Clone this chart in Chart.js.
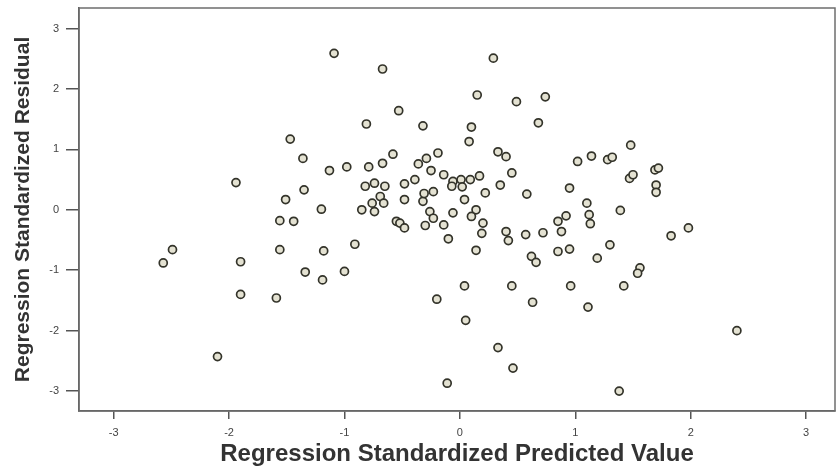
<!DOCTYPE html>
<html>
<head>
<meta charset="utf-8">
<script src="https://cdn.jsdelivr.net/npm/chart.js@4/dist/chart.umd.min.js"></script>
<style>
  html, body { margin: 0; padding: 0; background: #ffffff; }
  #wrap { width: 836px; height: 470px; }
</style>
</head>
<body>
<div id="wrap"><canvas id="residualChart" width="836" height="470"></canvas></div>
<script>
// Standardized predicted values (x) and standardized residuals (y)
const predicted = [
  -2.57, -2.49, -1.94, -1.90, -1.90, -2.10, -1.47, -1.36, -1.51, -1.35,
  -1.56, -1.44, -1.56, -1.59, -1.34, -1.20, -1.18, -1.19, -1.13, -0.98,
  -1.09, -1.00, -0.91, -0.67, -0.81, -0.79, -0.67, -0.58, -0.53, -0.82,
  -0.74, -0.65, -0.69, -0.76, -0.85, -0.74, -0.66, -0.55, -0.52, -0.48,
   0.29,  0.15,  0.49,  0.74, -0.32,  0.10,  0.68,  0.08,  0.33,  0.40,
  -0.19, -0.29, -0.36, -0.25, -0.14, -0.06,  0.01,  0.09,  0.17,  0.45,
   0.35,  0.58,  0.22,  0.04, -0.48, -0.39, -0.48, -0.32, -0.23, -0.07,
  -0.26, -0.06,  0.14,  1.48,  1.02,  1.14,  1.28,  1.32,  1.47,  1.50,
   1.69,  1.72,  1.70,  1.70,  0.95,  1.10,  1.12,  1.39,  0.92, -0.30,
  -0.23, -0.14,  0.10,  0.20,  0.19, -0.10,  0.14,  0.40,  0.42,  0.57,
   0.72,  0.62,  0.66,  0.04,  0.45, -0.20,  0.63,  0.05,  0.33,  0.46,
  -0.11,  0.85,  1.13,  0.88,  0.85,  0.95,  1.19,  1.30,  1.56,  1.54,
   1.83,  1.98,  0.96,  1.42,  1.11,  1.38,  2.40, -0.31,  0.02
];
const residual = [
  -0.88, -0.66,  0.45, -0.86, -1.40, -2.43,  1.17,  0.85,  0.17,  0.33,
  -0.18, -0.19, -0.66, -1.46, -1.03,  0.01, -0.68, -1.16,  0.65,  0.71,
   2.59, -1.02, -0.57,  2.33,  1.42,  0.71,  0.77,  0.92,  1.64,  0.39,
   0.44,  0.39,  0.22,  0.11,  0.00, -0.03,  0.11, -0.19, -0.22, -0.30,
   2.51,  1.90,  1.79,  1.87,  1.39,  1.37,  1.44,  1.13,  0.96,  0.88,
   0.94,  0.85,  0.76,  0.65,  0.58,  0.47,  0.50,  0.50,  0.56,  0.61,
   0.41,  0.26,  0.28,  0.17,  0.43,  0.50,  0.17,  0.14,  0.30,  0.39,
  -0.03, -0.05,  0.00,  1.07,  0.80,  0.89,  0.83,  0.87,  0.52,  0.58,
   0.66,  0.69,  0.41,  0.29,  0.36,  0.11, -0.08, -0.01, -0.10, -0.26,
  -0.14, -0.25, -0.11, -0.22, -0.39, -0.48, -0.67, -0.36, -0.51, -0.41,
  -0.38, -0.77, -0.87, -1.26, -1.26, -1.48, -1.53, -1.83, -2.28, -2.62,
  -2.87, -0.19, -0.23, -0.36, -0.69, -0.65, -0.80, -0.58, -0.96, -1.05,
  -0.43, -0.30, -1.26, -1.26, -1.61, -3.00, -2.00,  0.27,  0.38
];
const tickValues = [-3, -2, -1, 0, 1, 2, 3];

const points = predicted.map((x, i) => ({ x: x, y: residual[i] }));

// outline the whole plot frame like the SPSS output
const frameBox = {
  id: 'frameBox',
  afterDraw(chart) {
    const a = chart.chartArea;
    const ctx = chart.ctx;
    ctx.save();
    ctx.strokeStyle = '#6e6e6e';
    ctx.lineWidth = 1.5;
    ctx.strokeRect(a.left, a.top, a.right - a.left, a.bottom - a.top);
    ctx.restore();
  }
};

const fixTicks = scale => { scale.ticks = tickValues.map(v => ({ value: v })); };

new Chart(document.getElementById('residualChart').getContext('2d'), {
  type: 'scatter',
  data: {
    datasets: [{
      label: 'Residuals',
      data: points,
      pointRadius: 4,
      pointHoverRadius: 4,
      pointBorderWidth: 1.7,
      pointBorderColor: '#33332a',
      pointBackgroundColor: '#e4e2d2'
    }]
  },
  options: {
    responsive: false,
    animation: false,
    layout: { autoPadding: false, padding: { left: 0, top: 8, right: 1, bottom: 0 } },
    plugins: {
      legend: { display: false },
      tooltip: { enabled: false }
    },
    scales: {
      x: {
        type: 'linear',
        min: -3.30,
        max: 3.25,
        afterBuildTicks: fixTicks,
        afterFit: scale => {
          scale.height = 59;
          scale.paddingLeft = 0;
          scale.paddingRight = 0;
        },
        grid: { drawOnChartArea: false, drawTicks: true, tickLength: 8, color: '#555', lineWidth: 1.5 },
        border: { display: true, color: '#555', width: 1.5 },
        ticks: { color: '#444', padding: 7, font: { family: 'Arial, "Liberation Sans"', size: 11 } },
        title: {
          display: true,
          text: 'Regression Standardized Predicted Value',
          color: '#333',
          padding: { top: 0, bottom: 1 },
          font: { family: 'Arial, "Liberation Sans"', size: 24, weight: 'bold' }
        }
      },
      y: {
        type: 'linear',
        min: -3.33,
        max: 3.34,
        afterBuildTicks: fixTicks,
        afterFit: scale => {
          scale.width = 79;
          scale.paddingTop = 0;
          scale.paddingBottom = 0;
        },
        grid: { drawOnChartArea: false, drawTicks: true, tickLength: 13, color: '#555', lineWidth: 1.5 },
        border: { display: true, color: '#555', width: 1.5 },
        ticks: { color: '#444', padding: 7, font: { family: 'Arial, "Liberation Sans"', size: 11 } },
        title: {
          display: true,
          text: 'Regression Standardized Residual',
          color: '#333',
          padding: { top: 11, bottom: 0 },
          font: { family: 'Arial, "Liberation Sans"', size: 21, weight: 'bold' }
        }
      }
    }
  },
  plugins: [frameBox]
});
</script>
</body>
</html>
